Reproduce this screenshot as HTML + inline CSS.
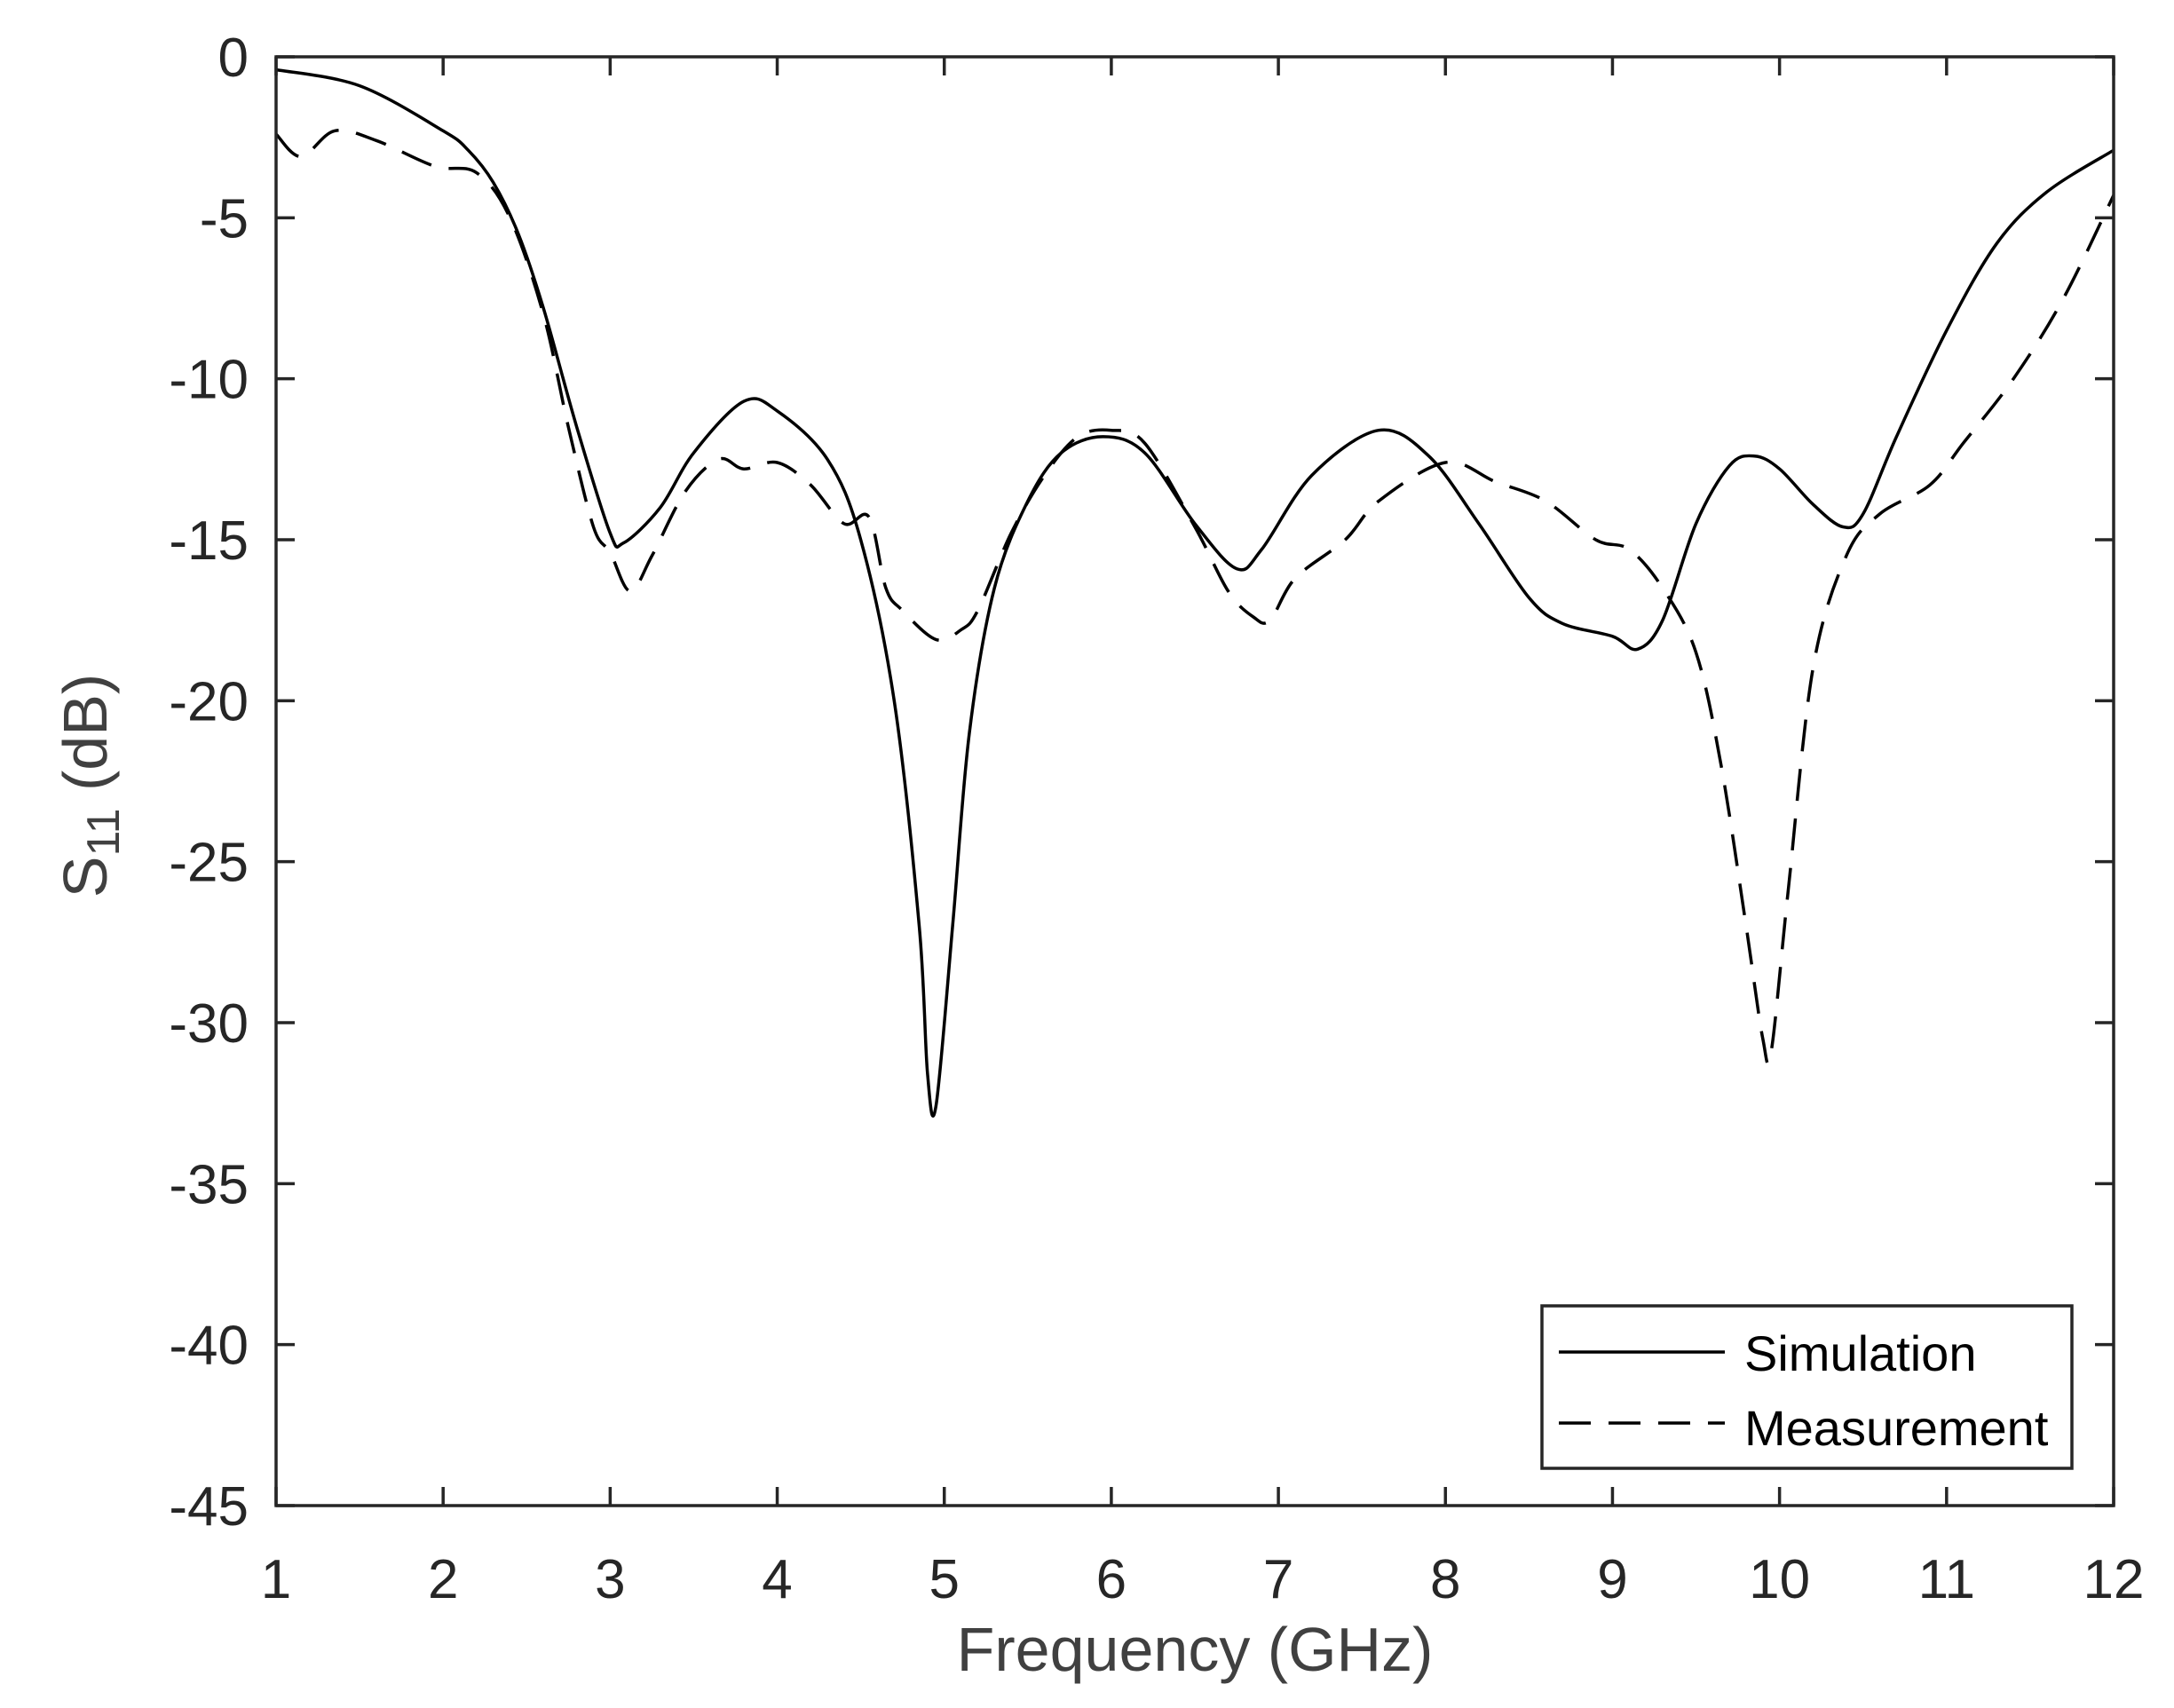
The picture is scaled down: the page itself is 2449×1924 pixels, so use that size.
<!DOCTYPE html>
<html><head><meta charset="utf-8"><style>
html,body{margin:0;padding:0;background:#fff}
svg text{font-family:"Liberation Sans",Arial,sans-serif}
</style></head><body>
<svg id="s" width="2449" height="1919" xmlns="http://www.w3.org/2000/svg">
<rect width="2449" height="1919" fill="#fff"/>
<g id="ax"></g>
<path id="sim" fill="none" stroke="#000" stroke-width="3.5"/>
<path id="meas" fill="none" stroke="#000" stroke-width="3.5" stroke-dasharray="36,20"/>
<rect x="311" y="64" width="2070" height="1632" fill="none" stroke="#262626" stroke-width="3.5"/>
<rect x="1737" y="1471" width="597" height="183" fill="#fff" stroke="#262626" stroke-width="3.5"/>
<line x1="1756" y1="1523" x2="1943" y2="1523" stroke="#000" stroke-width="3.5"/>
<line x1="1756" y1="1603" x2="1943" y2="1603" stroke="#000" stroke-width="3.5" stroke-dasharray="36,20"/>
<text x="1965" y="1544" font-size="56" fill="#000">Simulation</text>
<text x="1965" y="1628" font-size="56" fill="#000">Measurement</text>
<text x="1346" y="1882" font-size="70" fill="#404040" text-anchor="middle">Frequency (GHz)</text>
<text transform="translate(120,885) rotate(-90)" font-size="70" fill="#404040" text-anchor="middle">S<tspan font-size="52" dy="14">11</tspan><tspan dy="-14"> (dB)</tspan></text>
</svg>
<script>
var L=311,T=64,R=2381,B=1696,px=(R-L)/11,py=(B-T)/45;
function X(f){return L+(f-1)*px}function Y(d){return T-d*py}
var ax=document.getElementById('ax'),h='';
for(var f=1;f<=12;f++){var x=X(f);h+='<line x1="'+x+'" y1="'+B+'" x2="'+x+'" y2="'+(B-21)+'" stroke="#262626" stroke-width="3.5"/><line x1="'+x+'" y1="'+T+'" x2="'+x+'" y2="'+(T+21)+'" stroke="#262626" stroke-width="3.5"/><text x="'+x+'" y="1800" font-size="62" fill="#262626" text-anchor="middle">'+f+'</text>';}
for(var d=0;d>=-45;d-=5){var y=Y(d);h+='<line x1="'+L+'" y1="'+y+'" x2="'+(L+21)+'" y2="'+y+'" stroke="#262626" stroke-width="3.5"/><line x1="'+R+'" y1="'+y+'" x2="'+(R-21)+'" y2="'+y+'" stroke="#262626" stroke-width="3.5"/><text x="280" y="'+(y+22)+'" font-size="62" fill="#262626" text-anchor="end">'+(d==0?'0':d)+'</text>';}
ax.innerHTML=h;
var sim=[[1,-0.4],[1.5,-0.9],[2,-2.3],[2.15,-2.9],[2.3,-3.9],[2.45,-5.5],[2.6,-7.8],[2.8,-11.5],[3.0,-14.8],[3.08,-15.1],[3.3,-14],[3.5,-12.3],[3.8,-10.7],[4.0,-11],[4.3,-12.5],[4.5,-15],[4.7,-20],[4.85,-27],[4.9,-31.6],[4.95,-32.6],[5.05,-27],[5.15,-21],[5.3,-16.5],[5.5,-13.8],[5.7,-12.3],[5.95,-11.8],[6.2,-12.3],[6.5,-14.5],[6.75,-15.9],[6.9,-15.3],[7.2,-13],[7.6,-11.6],[7.9,-12.4],[8.2,-14.5],[8.5,-16.8],[8.7,-17.6],[9.0,-18.0],[9.15,-18.4],[9.3,-17.5],[9.5,-14.5],[9.7,-12.7],[9.85,-12.4],[10.0,-12.8],[10.2,-13.9],[10.38,-14.6],[10.5,-14.2],[10.7,-11.8],[11.0,-8.5],[11.3,-5.8],[11.6,-4.2],[12,-2.9]];
var meas=[[1,-2.4],[1.15,-3.1],[1.35,-2.3],[1.6,-2.6],[1.95,-3.4],[2.2,-3.6],[2.4,-5],[2.6,-8],[2.75,-11.5],[2.9,-14.6],[3.0,-15.4],[3.12,-16.6],[3.25,-15.5],[3.45,-13.5],[3.65,-12.5],[3.8,-12.8],[4.0,-12.6],[4.2,-13.3],[4.4,-14.5],[4.55,-14.3],[4.65,-16.5],[4.75,-17.2],[4.95,-18.1],[5.1,-17.8],[5.2,-17.2],[5.4,-14.8],[5.6,-13],[5.8,-11.8],[6.0,-11.6],[6.2,-12.0],[6.5,-14.6],[6.7,-16.6],[6.85,-17.4],[6.95,-17.5],[7.1,-16.2],[7.4,-15],[7.6,-13.8],[8.0,-12.6],[8.3,-13.2],[8.6,-13.8],[8.9,-15],[9.1,-15.3],[9.3,-16.5],[9.5,-18.5],[9.65,-22],[9.8,-27],[9.9,-30.5],[9.95,-30.9],[10.05,-26],[10.2,-19],[10.4,-15.5],[10.6,-14.2],[10.9,-13.3],[11.1,-12.0],[11.4,-10],[11.7,-7.5],[12,-4.3]];
function path(a){var p=a.map(function(q){return[X(q[0]),Y(q[1])]});var s='M'+p[0][0].toFixed(1)+','+p[0][1].toFixed(1);
for(var i=0;i<p.length-1;i++){var p0=p[i-1]||p[i],p1=p[i],p2=p[i+1],p3=p[i+2]||p2;
var c1=[p1[0]+(p2[0]-p0[0])/6,p1[1]+(p2[1]-p0[1])/6],c2=[p2[0]-(p3[0]-p1[0])/6,p2[1]-(p3[1]-p1[1])/6];
s+='C'+c1[0].toFixed(1)+','+c1[1].toFixed(1)+' '+c2[0].toFixed(1)+','+c2[1].toFixed(1)+' '+p2[0].toFixed(1)+','+p2[1].toFixed(1);}return s;}
document.getElementById('sim').setAttribute('d',path(sim));
document.getElementById('meas').setAttribute('d',path(meas));
</script>
</body></html>
